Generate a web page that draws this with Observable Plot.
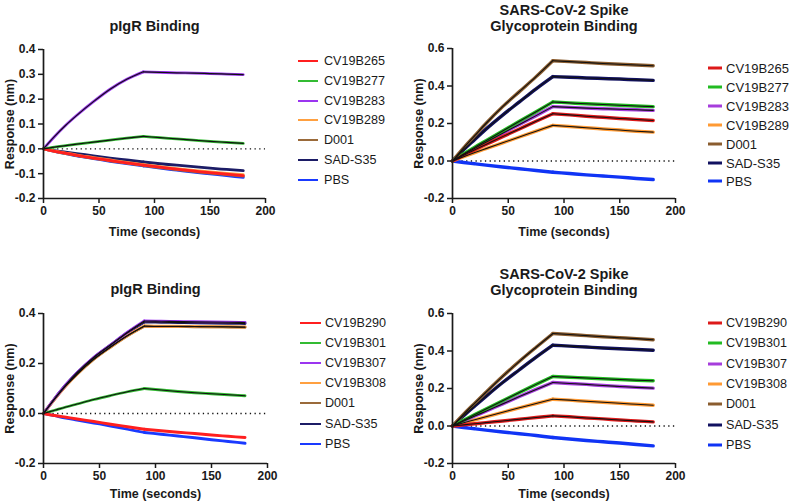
<!DOCTYPE html>
<html><head><meta charset="utf-8">
<script src="https://cdn.jsdelivr.net/npm/d3@7"></script>
<script src="https://cdn.jsdelivr.net/npm/@observablehq/plot@0.6"></script>
<style>
body{margin:0;background:#fff;}
#root{position:relative;width:800px;height:504px;font-family:"Liberation Sans",Arial,Helvetica,sans-serif;overflow:hidden;}
.panel{position:absolute;width:400px;height:252px;}
.row{position:absolute;white-space:nowrap;color:#1a1a1a;transform:translateY(-50%);line-height:1;}
.sw{position:absolute;transform:translateY(-50%);}
</style></head><body><div id="root"></div>
<script>
// time points (seconds); association ends at 90 s, dissociation from 90 s
const time = [0,10,20,30,45,60,75,90,105,120,135,150,165,180];
const switchTime = 90;
const xTicks = [0,50,100,150,200];

const namesA = ["CV19B265","CV19B277","CV19B283","CV19B289","D001","SAD-S35","PBS"];
const namesB = ["CV19B290","CV19B301","CV19B307","CV19B308","D001","SAD-S35","PBS"];
const colorsThin = ["#ff1f1f","#33bb33","#9b35f0","#ffa040","#9a6a3a","#1c1c66","#1a3aff"];
const colorsThick = ["#dd1a1a","#22bb22","#a63ddc","#ff9a33","#8a5c2e","#111160","#1034f5"];

// Panel 1: pIgR Binding (set A)
const p1_CV19B265 = [0,-0.010,-0.018,-0.026,-0.037,-0.047,-0.057,-0.066,-0.074,-0.082,-0.089,-0.096,-0.102,-0.108];
const p1_CV19B277 = [0,0.007,0.013,0.019,0.027,0.035,0.043,0.050,0.045,0.040,0.035,0.030,0.026,0.022];
const p1_CV19B283 = [0,0.050,0.095,0.135,0.190,0.240,0.280,0.310,0.308,0.306,0.305,0.303,0.301,0.299];
const p1_CV19B289 = [0,-0.009,-0.017,-0.025,-0.035,-0.045,-0.055,-0.064,-0.072,-0.080,-0.087,-0.093,-0.099,-0.104];
const p1_D001     = [0,-0.010,-0.019,-0.027,-0.038,-0.048,-0.058,-0.067,-0.076,-0.084,-0.091,-0.098,-0.104,-0.110];
const p1_SADS35   = [0,-0.007,-0.013,-0.019,-0.028,-0.037,-0.045,-0.053,-0.060,-0.066,-0.072,-0.078,-0.083,-0.088];
const p1_PBS      = [0,-0.010,-0.019,-0.028,-0.039,-0.050,-0.060,-0.069,-0.078,-0.086,-0.094,-0.101,-0.108,-0.115];

// Panel 2: SARS-CoV-2 Spike (set A)
const p2_CV19B265 = [0,0.031,0.060,0.088,0.130,0.171,0.212,0.252,0.246,0.239,0.233,0.227,0.221,0.216];
const p2_CV19B277 = [0,0.038,0.074,0.108,0.160,0.212,0.263,0.315,0.310,0.305,0.301,0.297,0.293,0.290];
const p2_CV19B283 = [0,0.035,0.068,0.100,0.148,0.195,0.242,0.290,0.286,0.282,0.279,0.276,0.273,0.270];
const p2_CV19B289 = [0,0.023,0.045,0.066,0.097,0.128,0.159,0.190,0.184,0.177,0.171,0.165,0.159,0.154];
const p2_D001     = [0,0.070,0.135,0.200,0.290,0.370,0.450,0.535,0.530,0.525,0.520,0.516,0.512,0.508];
const p2_SADS35   = [0,0.060,0.115,0.170,0.245,0.315,0.385,0.450,0.447,0.443,0.440,0.437,0.433,0.430];
const p2_PBS      = [0,-0.008,-0.015,-0.022,-0.032,-0.041,-0.051,-0.060,-0.067,-0.074,-0.080,-0.086,-0.093,-0.099];

// Panel 3: pIgR Binding (set B)
const p3_CV19B290 = [0,-0.008,-0.015,-0.022,-0.032,-0.043,-0.053,-0.063,-0.069,-0.075,-0.080,-0.086,-0.091,-0.096];
const p3_CV19B301 = [0,0.013,0.026,0.038,0.056,0.072,0.087,0.100,0.094,0.088,0.083,0.079,0.075,0.071];
const p3_CV19B307 = [0,0.060,0.115,0.163,0.225,0.275,0.325,0.370,0.369,0.368,0.367,0.366,0.365,0.364];
const p3_CV19B308 = [0,0.058,0.111,0.158,0.218,0.267,0.312,0.350,0.349,0.349,0.348,0.347,0.347,0.346];
const p3_D001     = [0,0.058,0.111,0.157,0.217,0.266,0.311,0.349,0.348,0.348,0.347,0.347,0.346,0.345];
const p3_SADS35   = [0,0.060,0.115,0.163,0.224,0.274,0.323,0.366,0.365,0.364,0.363,0.362,0.361,0.360];
const p3_PBS      = [0,-0.009,-0.018,-0.026,-0.038,-0.050,-0.063,-0.076,-0.083,-0.090,-0.097,-0.105,-0.112,-0.119];

// Panel 4: SARS-CoV-2 Spike (set B)
const p4_CV19B290 = [0,0.006,0.012,0.018,0.027,0.036,0.045,0.054,0.049,0.043,0.038,0.032,0.027,0.022];
const p4_CV19B301 = [0,0.031,0.061,0.091,0.135,0.179,0.222,0.264,0.260,0.256,0.252,0.248,0.244,0.241];
const p4_CV19B307 = [0,0.027,0.053,0.079,0.118,0.157,0.195,0.232,0.227,0.222,0.216,0.211,0.206,0.202];
const p4_CV19B308 = [0,0.017,0.033,0.049,0.073,0.097,0.120,0.143,0.138,0.132,0.127,0.121,0.116,0.111];
const p4_D001     = [0,0.063,0.122,0.180,0.265,0.345,0.420,0.493,0.488,0.482,0.476,0.471,0.466,0.460];
const p4_SADS35   = [0,0.055,0.107,0.158,0.232,0.300,0.367,0.431,0.426,0.421,0.416,0.412,0.408,0.404];
const p4_PBS      = [0,-0.008,-0.015,-0.022,-0.032,-0.041,-0.051,-0.061,-0.069,-0.077,-0.084,-0.091,-0.099,-0.106];

const titlePIgR = "pIgR Binding";
const titleSpike = "SARS-CoV-2 Spike\nGlycoprotein Binding";
const yLabel = "Response (nm)";
const xLabel = "Time (seconds)";

const panels = [
  {left:0, top:0, title:titlePIgR, titleDy:-24, names:namesA, colors:colorsThin,
   series:[p1_CV19B265,p1_CV19B277,p1_CV19B283,p1_CV19B289,p1_D001,p1_SADS35,p1_PBS],
   fits:["CV19B277","CV19B283"], yDomain:[-0.2,0.4], yTicks:[-0.2,-0.1,0,0.1,0.2,0.3,0.4],
   m:[49,135,54,43], lw:2.8, xDy:33,
   leg:{x1:298,x2:318,tx:324,y0:61,dy:19.8,h:2,fs:12.6}},
  {left:400, top:0, title:titleSpike, titleDy:-31, names:namesA, colors:colorsThick,
   series:[p2_CV19B265,p2_CV19B277,p2_CV19B283,p2_CV19B289,p2_D001,p2_SADS35,p2_PBS],
   fits:["CV19B265","CV19B277","CV19B283","CV19B289","D001","SAD-S35"], yDomain:[-0.2,0.6], yTicks:[-0.2,0,0.2,0.4,0.6],
   m:[48,125,54,52], lw:3.4, xDy:33,
   leg:{x1:708,x2:722,tx:726,y0:68,dy:18.9,h:3,fs:13}},
  {left:0, top:252, title:titlePIgR, titleDy:-24.5, names:namesB, colors:colorsThin,
   series:[p3_CV19B290,p3_CV19B301,p3_CV19B307,p3_CV19B308,p3_D001,p3_SADS35,p3_PBS],
   fits:["CV19B301","CV19B307","CV19B308","D001","SAD-S35"], yDomain:[-0.2,0.4], yTicks:[-0.2,0,0.2,0.4],
   m:[61,133,41,43], lw:2.8, xDy:30,
   leg:{x1:300,x2:321,tx:325,y0:323,dy:20.1,h:2,fs:12.6}},
  {left:400, top:252, title:titleSpike, titleDy:-32, names:namesB, colors:colorsThick,
   series:[p4_CV19B290,p4_CV19B301,p4_CV19B307,p4_CV19B308,p4_D001,p4_SADS35,p4_PBS],
   fits:["CV19B290","CV19B301","CV19B307","CV19B308","D001","SAD-S35"], yDomain:[-0.2,0.6], yTicks:[-0.2,0,0.2,0.4,0.6],
   m:[61,125,41,52], lw:3.4, xDy:30,
   leg:{x1:708,x2:722,tx:726,y0:323,dy:20.3,h:3,fs:12.6}}
];

const root = document.getElementById("root");
const font = '"Liberation Sans", Arial, Helvetica, sans-serif';
const ink = "#1a1a1a";

for (const P of panels) {
  // long-format table, split into association / dissociation phases,
  // drawn in reverse legend order so the first series sits on top
  const rows = [];
  for (let i = P.names.length - 1; i >= 0; i--) {
    P.series[i].forEach((v, j) => {
      const t = time[j];
      if (t <= switchTime) rows.push({name: P.names[i], phase: "a", t, v});
      if (t >= switchTime) rows.push({name: P.names[i], phase: "d", t, v});
    });
  }
  const fitRows = rows.filter(d => P.fits.includes(d.name));
  const zKey = d => d.name + "|" + d.phase;
  const chart = Plot.plot({
    width: 400, height: 252,
    marginTop: P.m[0], marginRight: P.m[1], marginBottom: P.m[2], marginLeft: P.m[3],
    x: {domain: [0, 200]},
    y: {domain: P.yDomain},
    color: {domain: P.names, range: P.colors},
    style: {fontFamily: font, background: "transparent", overflow: "visible", color: ink},
    marks: [
      Plot.ruleY([0], {stroke: "#111", strokeWidth: 1.3, strokeDasharray: "1.3,3.4"}),
      Plot.line(rows, {x: "t", y: "v", z: zKey, stroke: "name", strokeWidth: P.lw, curve: "monotone-x"}),
      Plot.line(fitRows, {x: "t", y: "v", z: zKey, stroke: "#111", strokeWidth: 1.1, curve: "monotone-x"}),
      Plot.ruleX([0], {stroke: ink, strokeWidth: 1.7}),
      Plot.ruleY([P.yDomain[0]], {stroke: ink, strokeWidth: 1.7}),
      Plot.axisX({ticks: xTicks, tickSize: 5, tickPadding: 3, tickFormat: d => String(d),
        fontSize: 12, fontWeight: "bold", label: null, strokeWidth: 1.5, stroke: ink, fill: ink}),
      Plot.axisY({ticks: P.yTicks, tickSize: 5, tickPadding: 3, tickFormat: d => d.toFixed(1),
        fontSize: 12, fontWeight: "bold", label: null, strokeWidth: 1.5, stroke: ink, fill: ink}),
      Plot.text([P.title], {text: d => d, frameAnchor: "top", lineAnchor: "middle", textAnchor: "middle",
        dy: P.titleDy, fontSize: 14.5, fontWeight: "bold", lineHeight: 1.12, fill: ink}),
      Plot.text([yLabel], {text: d => d, frameAnchor: "left", lineAnchor: "middle", textAnchor: "middle",
        dx: -34, rotate: -90, fontSize: 12.5, fontWeight: "bold", fill: ink}),
      Plot.text([xLabel], {text: d => d, frameAnchor: "bottom", lineAnchor: "middle", textAnchor: "middle",
        dy: P.xDy, fontSize: 12.5, fontWeight: "bold", fill: ink})
    ]
  });
  const div = document.createElement("div");
  div.className = "panel";
  div.style.left = P.left + "px";
  div.style.top = P.top + "px";
  div.appendChild(chart);
  root.appendChild(div);

  // legend
  P.names.forEach((n, i) => {
    const y = P.leg.y0 + i * P.leg.dy;
    const sw = document.createElement("div");
    sw.className = "sw";
    sw.style.left = P.leg.x1 + "px";
    sw.style.top = y + "px";
    sw.style.width = (P.leg.x2 - P.leg.x1) + "px";
    sw.style.height = P.leg.h + "px";
    sw.style.background = P.colors[i];
    root.appendChild(sw);
    const tx = document.createElement("div");
    tx.className = "row";
    tx.style.left = P.leg.tx + "px";
    tx.style.top = y + "px";
    tx.style.fontSize = P.leg.fs + "px";
    tx.textContent = n;
    root.appendChild(tx);
  });
}
</script>
</body></html>
